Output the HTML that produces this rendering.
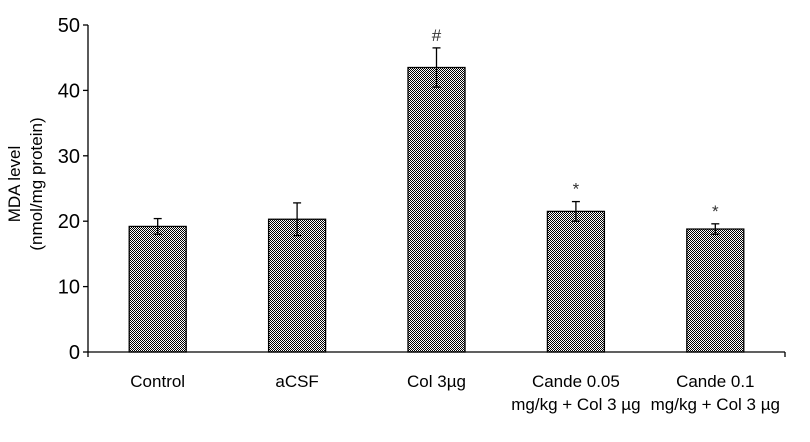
<!DOCTYPE html>
<html><head><meta charset="utf-8"><style>
html,body{margin:0;padding:0;background:#fff;}
svg text{font-family:"Liberation Sans",Arial,sans-serif;}
</style></head><body>
<svg id="chart" width="810" height="437" viewBox="0 0 810 437" xmlns="http://www.w3.org/2000/svg">
<defs>
<pattern id="chk" width="2" height="2" patternUnits="userSpaceOnUse">
<rect width="2" height="2" fill="#fff"/>
<rect width="1" height="1" fill="#000"/>
<rect x="1" y="1" width="1" height="1" fill="#000"/>
</pattern>
</defs>
<g id="plot"></g>
</svg>
<script>
const categories=[["Control"],["aCSF"],["Col  3µg"],["Cande 0.05","mg/kg + Col 3 µg"],["Cande 0.1","mg/kg + Col 3 µg"]];
const values=[19.2,20.3,43.5,21.5,18.8];
const errors=[1.2,2.5,3.0,1.5,0.8];
const marks=["","","#","*","*"];
const yTicks=[0,10,20,30,40,50];
const X0=88,X1=785,Y0=352,Y1=25,YMAX=50;
const ns="http://www.w3.org/2000/svg";
const g=document.getElementById('plot');
function y(v){return Y0-(v/YMAX)*(Y0-Y1);}
const bw=(X1-X0)/categories.length;
function xc(i){return X0+bw*(i+0.5);}
function mk(t,a,p){const e=document.createElementNS(ns,t);for(const k in a)e.setAttribute(k,a[k]);(p||g).appendChild(e);return e;}
values.forEach((v,i)=>{
 const r=mk('rect',{x:xc(i)-28.5,y:y(v),width:57,height:Y0-y(v),fill:'url(#chk)',stroke:'#000','stroke-width':1.3});
 
 
 const eg=mk('g',{stroke:'#000','stroke-width':1.3});
 
 
 const cx=xc(i),hi=y(v+errors[i]),lo=y(v-errors[i]);
 mk('line',{x1:cx,x2:cx,y1:hi,y2:lo},eg);
 mk('line',{x1:cx-4,x2:cx+4,y1:hi,y2:hi},eg);
 mk('line',{x1:cx-4,x2:cx+4,y1:lo,y2:lo},eg);
 if(marks[i]){
  const t=mk('text',{x:cx,y:hi-7,'text-anchor':'middle','font-size':17,fill:'#333'});
  t.textContent=marks[i];
  
  
 }
 categories[i].forEach((line,j)=>{
  const t=mk('text',{x:cx,y:387+j*23,'text-anchor':'middle','font-size':17,fill:'#000'});
  t.textContent=line;
  
  
 });
});
const ax=mk('g',{stroke:'#000','stroke-width':1.3});


mk('line',{x1:X0,x2:X0,y1:Y1,y2:Y0+5},ax);
mk('line',{x1:X0,x2:X1,y1:Y0,y2:Y0},ax);
mk('line',{x1:X1,x2:X1,y1:Y0,y2:Y0+5},ax);
yTicks.forEach(v=>{
 mk('line',{x1:X0-5,x2:X0,y1:y(v),y2:y(v)},ax);
 const t=mk('text',{x:X0-8,y:y(v)+7,'text-anchor':'end','font-size':20,fill:'#000'});
 t.textContent=v;
 
 
});
const tt=mk('text',{transform:'translate(20,184) rotate(-90)','text-anchor':'middle','font-size':17,fill:'#000'});


const s1=mk('tspan',{x:0,dy:0},tt);s1.textContent='MDA level';
const s2=mk('tspan',{x:0,dy:22},tt);s2.textContent='(nmol/mg protein)';
</script>
</body></html>
